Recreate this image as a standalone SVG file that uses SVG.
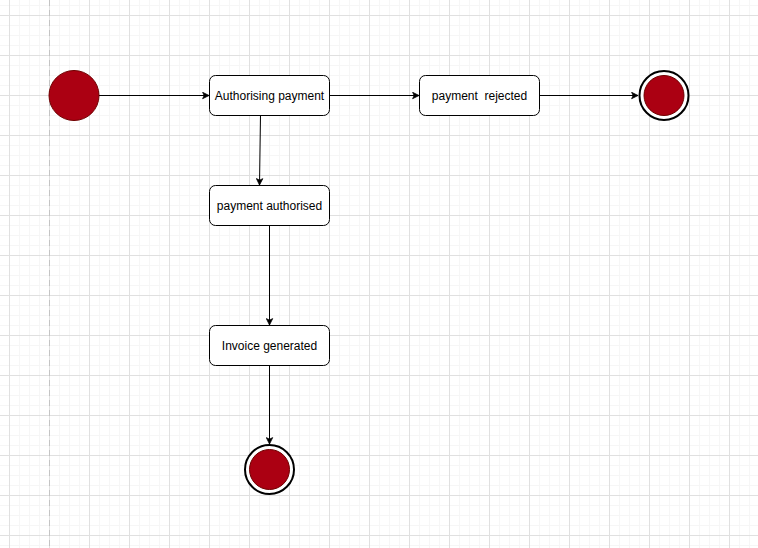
<svg xmlns="http://www.w3.org/2000/svg" width="758" height="548" viewBox="0 0 758 548">
<defs>
<pattern id="minor" x="9" y="15" width="10" height="10" patternUnits="userSpaceOnUse">
<path d="M0.5 0V10M0 0.5H10" fill="none" stroke="#f6f6f6" stroke-width="1"/>
</pattern>
<pattern id="major" x="9" y="15" width="40" height="40" patternUnits="userSpaceOnUse">
<path d="M0.5 0V40M0 0.5H40" fill="none" stroke="#e0e0e0" stroke-width="1"/>
</pattern>
<marker id="arr" viewBox="0 0 10 10" refX="9" refY="5" markerWidth="8" markerHeight="8" markerUnits="userSpaceOnUse" orient="auto">
<path d="M1 1L9 5L1 9L3 5Z" fill="#000" stroke="#000" stroke-width="1"/>
</marker>
</defs>
<style>
.box{fill:#fff;stroke:#000;stroke-width:1}
.lbl{font-family:"Liberation Sans",Arial,sans-serif;font-size:12px;fill:#000;text-anchor:middle;white-space:pre}
.edge{fill:none;stroke:#000;stroke-width:1;marker-end:url(#arr)}
.red{fill:#ab0012;stroke:#6f0000;stroke-width:1}
.ring{fill:#fff;stroke:#000;stroke-width:2}
</style>
<rect width="758" height="548" fill="#fff"/>
<rect width="758" height="548" fill="url(#minor)"/>
<rect width="758" height="548" fill="url(#major)"/>
<line x1="49.5" y1="0" x2="49.5" y2="548" stroke="#c4c4c4" stroke-width="1" stroke-dasharray="6,4"/>
<g id="connectors">
<path class="edge" d="M99 95.5H209"/>
<path class="edge" d="M329.5 95.5H419"/>
<path class="edge" d="M539.5 95.5H638"/>
<path class="edge" d="M260.5 115.5L259.5 185"/>
<path class="edge" d="M269.5 225.5V325"/>
<path class="edge" d="M269.5 365.5V444"/>
</g>
<g id="start">
<circle class="red" cx="74" cy="95.5" r="25"/>
</g>
<g id="authorising">
<rect class="box" x="209.5" y="75.5" width="120" height="40" rx="6"/>
<text class="lbl" x="269.5" y="99.5">Authorising payment</text>
</g>
<g id="rejected">
<rect class="box" x="419.5" y="75.5" width="120" height="40" rx="6"/>
<text class="lbl" x="479.5" y="99.5">payment  rejected</text>
</g>
<g id="end1">
<circle class="ring" cx="664" cy="95.5" r="24.5"/>
<circle class="red" cx="664" cy="95.5" r="20"/>
</g>
<g id="authorised">
<rect class="box" x="209.5" y="185.5" width="120" height="40" rx="6"/>
<text class="lbl" x="269.5" y="209.5">payment authorised</text>
</g>
<g id="invoice">
<rect class="box" x="209.5" y="325.5" width="120" height="40" rx="6"/>
<text class="lbl" x="269.5" y="349.5">Invoice generated</text>
</g>
<g id="end2">
<circle class="ring" cx="269.5" cy="469.5" r="24.5"/>
<circle class="red" cx="269.5" cy="469.5" r="20"/>
</g>
</svg>
